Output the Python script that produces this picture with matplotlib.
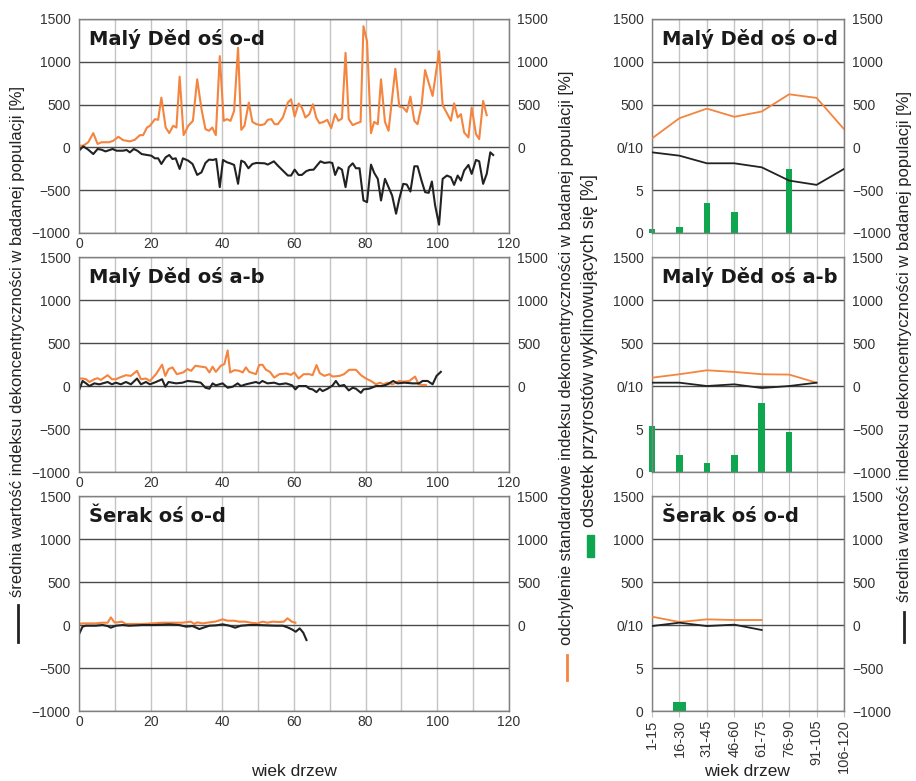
import matplotlib.pyplot as plt
from matplotlib.lines import Line2D
from matplotlib.patches import Rectangle

plt.rcParams['font.family'] = ['Liberation Sans', 'DejaVu Sans']

# --- Malý Děd oś o-d, yearly series -------------------------------------
od_sd_age = [0, 1.2, 2.6, 4.0, 5.2, 6.3, 8.4, 9.6, 11.0, 12.3, 14.2, 15.6, 17.0, 17.9,
             19.0, 19.8, 21.2, 22.1, 23.0, 24.2, 25.2, 26.3, 27.2, 28.1, 29.2, 30.5,
             31.8, 33.0, 34.2, 35.3, 36.3, 37.2, 38.2, 39.3, 40.4, 41.3, 42.3, 43.3,
             44.4, 45.3, 46.2, 47.4, 48.4, 49.5, 50.7, 51.8, 52.7, 53.7, 54.6, 55.5,
             56.9, 58.3, 59.2, 60.2, 61.3, 62.2, 63.2, 64.3, 65.3, 66.2, 67.1, 68.3,
             69.3, 70.4, 71.5, 72.4, 73.4, 74.4, 75.3, 76.4, 77.6, 78.6, 79.4, 80.4,
             81.5, 82.4, 83.4, 84.3, 85.4, 86.4, 88.3, 89.4, 90.5, 91.5, 92.5, 93.6,
             94.5, 95.6, 96.6, 97.6, 98.7, 100.5, 101.5, 102.7, 103.8, 104.7, 105.7,
             106.6, 107.5, 108.7, 109.6, 110.8, 111.7, 112.8, 113.8]
od_sd = [20, 20, 60, 167, 40, 60, 60, 78, 124, 85, 70, 89, 143, 143,
         232, 252, 330, 322, 581, 232, 167, 252, 232, 826, 143, 252,
         310, 795, 446, 213, 194, 232, 143, 1066, 310, 330, 310, 426,
         1163, 205, 252, 523, 298, 271, 260, 271, 322, 330, 271, 271,
         349, 523, 562, 360, 512, 465, 349, 388, 504, 349, 283, 298,
         322, 225, 388, 310, 337, 1105, 330, 260, 283, 298, 1415, 1240,
         167, 298, 271, 795, 298, 194, 918, 477, 465, 415, 593, 310,
         271, 485, 903, 756, 601, 1124, 492, 399, 310, 515, 349,
         388, 174, 116, 465, 155, 97, 543, 376]

od_mean_age = [0, 1.2, 2.6, 4.0, 5.2, 6.3, 7.4, 9.4, 10.5, 12.3, 13.3, 14.2, 15.3, 16.3,
               17.5, 19.0, 20.2, 21.2, 22.1, 23.0, 24.2, 25.2, 26.1, 27.0, 28.1, 29.0,
               30.5, 31.7, 33.0, 34.2, 35.3, 36.3, 37.4, 38.3, 39.3, 40.2, 41.3, 42.2,
               43.3, 44.4, 45.3, 46.2, 47.3, 48.4, 49.5, 51.8, 52.7, 54.4, 55.5, 56.9,
               58.3, 59.2, 60.2, 61.3, 62.2, 63.4, 64.3, 65.5, 66.4, 67.4, 68.5, 69.9,
               70.7, 71.5, 72.4, 73.4, 74.4, 75.3, 76.4, 77.3, 78.3, 79.4, 80.4, 81.5,
               82.4, 83.4, 84.3, 85.4, 86.4, 87.4, 88.5, 89.4, 90.5, 91.5, 92.5, 93.6,
               94.5, 95.6, 96.6, 97.6, 98.5, 99.4, 100.5, 101.5, 102.7, 103.8, 104.7,
               105.7, 106.6, 107.5, 108.7, 109.6, 110.8, 111.7, 112.8, 113.8, 114.8, 115.6]
od_mean = [-39, 12, -27, -78, -19, -27, -47, -19, -39, -39, -30, -58, -19, -39,
           -78, -89, -97, -128, -128, -194, -116, -89, -136, -128, -252, -128,
           -155, -194, -322, -291, -182, -143, -147, -136, -465, -147, -174, -186,
           -205, -426, -155, -174, -244, -194, -182, -186, -201, -163, -213, -271,
           -329, -329, -260, -322, -322, -279, -264, -260, -213, -163, -182, -174,
           -182, -322, -233, -260, -465, -233, -186, -244, -244, -620, -640, -201,
           -298, -368, -620, -368, -465, -562, -775, -601, -426, -434, -516, -221,
           -221, -388, -523, -531, -399, -678, -903, -368, -329, -349, -438,
           -329, -388, -271, -205, -310, -147, -163, -426, -310, -58, -89]

# --- Malý Děd oś a-b, yearly series -------------------------------------
ab_sd_age = [0, 1.0, 2.0, 2.9, 4.3, 5.2, 6.1, 8.0, 9.2, 10.3, 11.3, 13.1, 14.5, 16.2,
             17.3, 18.7, 19.8, 21.5, 23.2, 24.1, 25.0, 26.1, 27.3, 29.1, 30.3, 31.3,
             32.5, 33.6, 35.4, 36.4, 37.3, 38.2, 39.6, 40.6, 41.5, 42.2, 43.4, 44.7,
             45.7, 46.6, 47.5, 49.4, 50.3, 51.2, 52.2, 53.3, 54.5, 55.9, 57.8, 59.2,
             60.1, 61.3, 62.7, 64.3, 65.2, 66.3, 67.2, 68.5, 69.9, 70.8, 72.7, 74.0,
             75.4, 77.3, 78.7, 80.1, 81.5, 82.9, 84.0, 84.9, 86.1, 87.5, 89.4, 90.8,
             92.2, 93.8, 94.8, 95.9, 96.8]
ab_sd = [87, 87, 79, 47, 79, 91, 71, 126, 79, 79, 98, 126, 118, 177,
         79, 87, 59, 138, 248, 118, 197, 217, 138, 158, 197, 177,
         236, 228, 217, 158, 225, 165, 236, 256, 414, 158, 185, 177,
         158, 217, 165, 138, 244, 248, 189, 165, 98, 138, 146, 130,
         158, 87, 138, 138, 126, 244, 150, 118, 138, 110, 118, 138,
         189, 189, 126, 87, 59, 20, 39, 20, 39, 20, 59, 51,
         59, 110, 20, 12, 12]

ab_mean_age = [0, 1.0, 2.0, 2.9, 4.3, 5.7, 8.0, 9.2, 10.3, 11.7, 13.1, 14.5, 16.2, 17.3,
               18.7, 19.8, 21.5, 23.2, 24.1, 25.0, 27.1, 28.9, 30.3, 32.2, 34.0, 35.3,
               36.4, 37.3, 38.2, 40.1, 41.5, 42.9, 44.3, 45.2, 46.6, 49.4, 50.3, 51.2,
               52.6, 54.5, 55.9, 57.8, 59.5, 60.4, 61.3, 63.4, 64.3, 65.2, 66.3, 67.2,
               68.0, 69.4, 70.8, 71.7, 72.7, 74.0, 75.3, 76.4, 77.3, 78.7, 79.4, 81.0,
               82.9, 84.7, 86.1, 87.7, 88.9, 90.8, 93.1, 94.9, 95.9, 97.3, 98.7, 99.8,
               101.0]
ab_mean = [-51, 59, 31, 0, 31, 20, 47, 20, 39, 20, 47, 20, 87, 20,
           47, 20, 47, 79, -8, 47, 31, 39, 59, 51, 39, -20,
           -31, 31, 8, 31, -20, -8, 31, 0, 20, 47, 31, 59,
           31, 39, 20, 31, 8, -39, 0, 0, -31, -39, -71, -31,
           -59, -31, 8, 59, 0, 12, -51, -20, -31, -79, -39, -31,
           0, 0, 20, 59, 31, 39, 31, 31, 59, 59, 20, 118,
           165]

# --- Šerak oś o-d, yearly series ----------------------------------------
se_sd_age = [0, 1.0, 2.9, 4.7, 6.6, 8.0, 8.9, 9.9, 10.8, 12.0, 13.1, 14.5, 17.8, 20.6,
             23.3, 26.0, 28.9, 31.2, 32.2, 33.0, 34.5, 36.4, 38.0, 40.1, 41.5, 43.3,
             44.7, 46.5, 47.9, 49.8, 51.3, 52.6, 54.0, 55.9, 57.2, 58.2, 59.4, 60.4]
se_sd = [12, 19, 19, 19, 27, 27, 89, 31, 31, 39, 12, 12, 12, 19,
         27, 27, 27, 39, 12, 31, 19, 31, 39, 66, 50, 50,
         39, 39, 27, 19, 39, 27, 39, 35, 39, 78, 39, 27]

se_mean_age = [0, 1.0, 1.9, 4.7, 6.6, 8.0, 8.9, 10.3, 12.2, 14.0, 17.8, 21.5, 25.2, 28.0,
               29.9, 31.7, 33.6, 35.0, 36.4, 38.2, 40.1, 42.0, 43.6, 45.2, 47.5, 49.8,
               52.2, 55.0, 56.9, 58.2, 59.4, 60.5, 61.6, 62.6, 63.5]
se_mean = [-109, -19, -8, -8, 0, -12, -31, -8, 0, -8, 0, 0, 8, 0,
           -19, -12, -47, -27, -8, -4, 8, -8, -31, -8, 0, 0,
           -4, -8, -8, -27, -50, -78, -39, -89, -175]

# --- age classes (right column) ------------------------------------------
classes = ['1-15', '16-30', '31-45', '46-60', '61-75', '76-90', '91-105', '106-120']
od_cls_sd = [105, 341, 453, 357, 419, 620, 578, 213]
od_cls_mean = [-58, -97, -186, -186, -233, -388, -438, -252]
od_wedged = [0.5, 0.75, 3.5, 2.4, 0, 7.5, 0, 0]
ab_cls_sd = [97, 137, 183, 164, 137, 133, 39]
ab_cls_mean = [39, 39, 0, 20, -23, 0, 39]
ab_wedged = [5.3, 2.0, 1.0, 2.0, 8.0, 4.7, 0, 0]
se_cls_sd = [97, 35, 66, 58, 58]
se_cls_mean = [-12, 27, -12, 4, -58]
se_wedged = [0, 1.0, 0, 0, 0, 0, 0, 0]

titles = ['Malý Děd oś o-d', 'Malý Děd oś a-b', 'Šerak oś o-d']

ORANGE = '#f4843e'
BLACK = '#222222'
GREEN = '#0fa64f'

fig = plt.figure(figsize=(9.16, 7.81), dpi=100)
rows = [(0.7017, 0.2740), (0.3956, 0.2753), (0.0896, 0.2753)]


def base_style(ax):
    ax.set_ylim(-1000, 1500)
    ax.set_yticks([-1000, -500, 0, 500, 1000, 1500])
    ax.set_axisbelow(True)
    for s in ax.spines.values():
        s.set_color('#808080')
        s.set_linewidth(1.0)
    ax.yaxis.grid(True, color='#4a4a4a', linewidth=1.0)
    ax.tick_params(axis='y', length=0, pad=6, labelsize=10, labelcolor='#333333')
    ax.tick_params(axis='x', labelsize=10, labelcolor='#333333')


def add_title(ax, text):
    ax.annotate(text, xy=(0, 1), xycoords='axes fraction', xytext=(7.5, -18.5),
                textcoords='offset points', fontsize=14, fontweight='bold',
                family='DejaVu Sans', color='#1a1a1a', va='baseline')


left_data = [(od_sd_age, od_sd, od_mean_age, od_mean),
             (ab_sd_age, ab_sd, ab_mean_age, ab_mean),
             (se_sd_age, se_sd, se_mean_age, se_mean)]
right_data = [(od_cls_sd, od_cls_mean, od_wedged, 0.24),
              (ab_cls_sd, ab_cls_mean, ab_wedged, 0.24),
              (se_cls_sd, se_cls_mean, se_wedged, 0.48)]

for i, (bottom, height) in enumerate(rows):
    # left: yearly curves
    ax = fig.add_axes([0.0862, bottom, 0.4694, height])
    base_style(ax)
    sd_x, sd_y, mean_x, mean_y = left_data[i]
    ax.plot(sd_x, sd_y, color=ORANGE, lw=1.5)
    ax.plot(mean_x, mean_y, color=BLACK, lw=1.5)
    ax.set_xlim(0, 120)
    ax.set_xticks(range(0, 121, 20))
    ax.set_xticks(range(0, 121, 10), minor=True)
    ax.xaxis.grid(True, which='both', color='#c4c4c4', linewidth=1.0)
    ax.tick_params(axis='x', which='both', length=0, pad=3)
    sec = ax.secondary_yaxis('right')
    sec.set_yticks([0, 500, 1000, 1500])
    sec.tick_params(length=0, pad=6, labelsize=10, labelcolor='#333333')
    sec.spines['right'].set_color('#808080')
    add_title(ax, titles[i])

    # right: age classes
    axr = fig.add_axes([0.7118, bottom, 0.2096, height])
    base_style(axr)
    cls_sd, cls_mean, wedged, bw = right_data[i]
    xs = range(len(classes))
    axr.bar(xs, [p * 100 for p in wedged], bottom=-1000, width=bw,
            color=GREEN, clip_on=False, zorder=2)
    axr.plot(range(len(cls_sd)), cls_sd, color=ORANGE, lw=1.3, zorder=3)
    axr.plot(range(len(cls_mean)), cls_mean, color=BLACK, lw=1.3, zorder=3)
    axr.set_xlim(0, len(classes) - 1)
    axr.set_xticks(xs)
    axr.xaxis.grid(True, color='#c4c4c4', linewidth=1.0)
    axr.set_yticklabels(['0', '5', '0/10', '500', '1000', '1500'])
    if i < 2:
        axr.tick_params(axis='x', length=17, color='#c4c4c4', labelbottom=False)
    else:
        axr.set_xticklabels(classes, rotation=90)
        axr.tick_params(axis='x', length=4, color='#c4c4c4', pad=2, labelsize=10.5)
    secr = axr.secondary_yaxis('right')
    secr.set_yticks([-1000, -500, 0, 500, 1000, 1500])
    secr.tick_params(length=0, pad=6, labelsize=10, labelcolor='#333333')
    secr.spines['right'].set_color('#808080')
    add_title(axr, titles[i])

# axis titles
mean_lbl = 'średnia wartość indeksu dekoncentryczności w badanej populacji [%]'
fig.text(18 / 916, 1 - 597 / 781, mean_lbl, rotation=90, ha='center', va='bottom',
         fontsize=12, color='#222222')
fig.text(904 / 916, 1 - 602 / 781, mean_lbl, rotation=90, ha='center', va='bottom',
         fontsize=12, color='#222222')
fig.text(567 / 916, 1 - 645 / 781,
         'odchylenie standardowe indeksu dekoncentryczności w badanej populacji [%]',
         rotation=90, ha='center', va='bottom', fontsize=12, color='#222222')
fig.text(590 / 916, 1 - 527 / 781, 'odsetek przyrostów wyklinowujących się [%]',
         rotation=90, ha='center', va='bottom', fontsize=13, color='#222222')

# legend keys beside the axis titles
fig.add_artist(Line2D([18 / 916, 18 / 916], [1 - 605 / 781, 1 - 642 / 781],
                      color=BLACK, lw=2, transform=fig.transFigure))
fig.add_artist(Line2D([904 / 916, 904 / 916], [1 - 612 / 781, 1 - 642 / 781],
                      color=BLACK, lw=2, transform=fig.transFigure))
fig.add_artist(Line2D([567 / 916, 567 / 916], [1 - 655 / 781, 1 - 680 / 781],
                      color=ORANGE, lw=2, transform=fig.transFigure))
fig.add_artist(Rectangle((587 / 916, 1 - 557 / 781), 7 / 916, 22 / 781,
                         color=GREEN, transform=fig.transFigure))

fig.text(294 / 916, 1 - 772 / 781, 'wiek drzew', ha='center', va='center',
         fontsize=12.5, color='#222222')
fig.text(747 / 916, 1 - 772 / 781, 'wiek drzew', ha='center', va='center',
         fontsize=12.5, color='#222222')

fig.savefig('out.png', dpi=100)
